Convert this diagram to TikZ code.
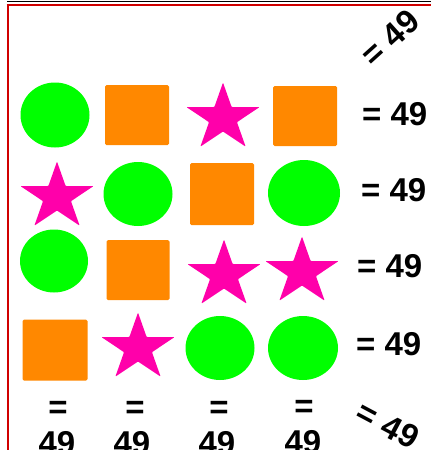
\documentclass[tikz,border=0pt]{standalone}
\usepackage{fontspec}
\setmainfont{Liberation Sans}
\usetikzlibrary{shapes.geometric}
\definecolor{cgreen}{HTML}{00FF00}
\definecolor{corange}{HTML}{FF8800}
\definecolor{cpink}{HTML}{FF00AA}
\definecolor{cframe}{HTML}{D00000}
\tikzset{
  circ/.style={ellipse, fill=cgreen, draw=none, inner sep=0pt},
  sq/.style={rectangle, fill=corange, draw=none, inner sep=0pt, rounded corners=1.5pt},
  st/.style={star, star points=5, star point ratio=2.618, fill=cpink, draw=none, inner sep=0pt, minimum size=77pt, yscale=0.92, rounded corners=0.8pt},
  lab/.style={font=\bfseries\fontsize{33pt}{36pt}\selectfont, inner sep=0pt, text=black},
}
\begin{document}
\begin{tikzpicture}[x=1pt,y=-1pt]
\useasboundingbox (0,0) rectangle (431,450);
\fill[white] (0,0) rectangle (431,450);
% frame
\coordinate (fa) at (7,1.6);
\coordinate (fb) at (431,1.6);
\draw[black, line width=1.3pt] (fa) -- (fb);
\coordinate (ra) at (6.5,5);
\coordinate (rb) at (431,5);
\coordinate (rc) at (7.5,4);
\coordinate (rd) at (7.5,450);
\draw[cframe, line width=2pt] (ra) -- (rb);
\draw[cframe, line width=2pt] (rc) -- (rd);
% row 1
\node[circ, minimum width=69pt, minimum height=65pt] (a1) at (55,115) {};
\node[sq, minimum width=64pt, minimum height=60pt] (a2) at (137,115) {};
\node[st] (a3) at (223,118) {};
\node[sq, minimum width=64pt, minimum height=60pt] (a4) at (305,116) {};
% row 2
\node[st] (b1) at (57,197) {};
\node[circ, minimum width=69pt, minimum height=64pt] (b2) at (138,194) {};
\node[sq, minimum width=64pt, minimum height=62pt] (b3) at (222,194) {};
\node[circ, minimum width=72pt, minimum height=66pt] (b4) at (304,193) {};
% row 3
\node[circ, minimum width=68pt, minimum height=63pt] (c1) at (54,261) {};
\node[sq, minimum width=63pt, minimum height=60pt] (c2) at (138,270) {};
\node[st] (c3) at (224,275) {};
\node[st] (c4) at (302,272) {};
% row 4
\node[sq, minimum width=65pt, minimum height=61pt] (d1) at (55,350) {};
\node[st] (d2) at (138,348) {};
\node[circ, minimum width=69pt, minimum height=64pt] (d3) at (220,348) {};
\node[circ, minimum width=70pt, minimum height=64pt] (d4) at (303,348) {};
% right labels
\node[lab, anchor=base west] (r1) at (362,125) {= 49};
\node[lab, anchor=base west] (r2) at (361,201) {= 49};
\node[lab, anchor=base west] (r3) at (357,277) {= 49};
\node[lab, anchor=base west] (r4) at (356,355) {= 49};
% bottom labels
\node[lab, anchor=base] (e1) at (58,418) {=};
\node[lab, anchor=base] (e2) at (135,418) {=};
\node[lab, anchor=base] (e3) at (219,418) {=};
\node[lab, anchor=base] (e4) at (304,417) {=};
\node[lab, anchor=base] (n1) at (57,454) {49};
\node[lab, anchor=base] (n2) at (132,454) {49};
\node[lab, anchor=base] (n3) at (217,454) {49};
\node[lab, anchor=base] (n4) at (303,453) {49};
% diagonals
\node[lab, rotate=42] (dg1) at (390,38) {= 49};
\node[lab, rotate=-28] (dg2) at (388,425) {= 49};
\end{tikzpicture}
\end{document}
